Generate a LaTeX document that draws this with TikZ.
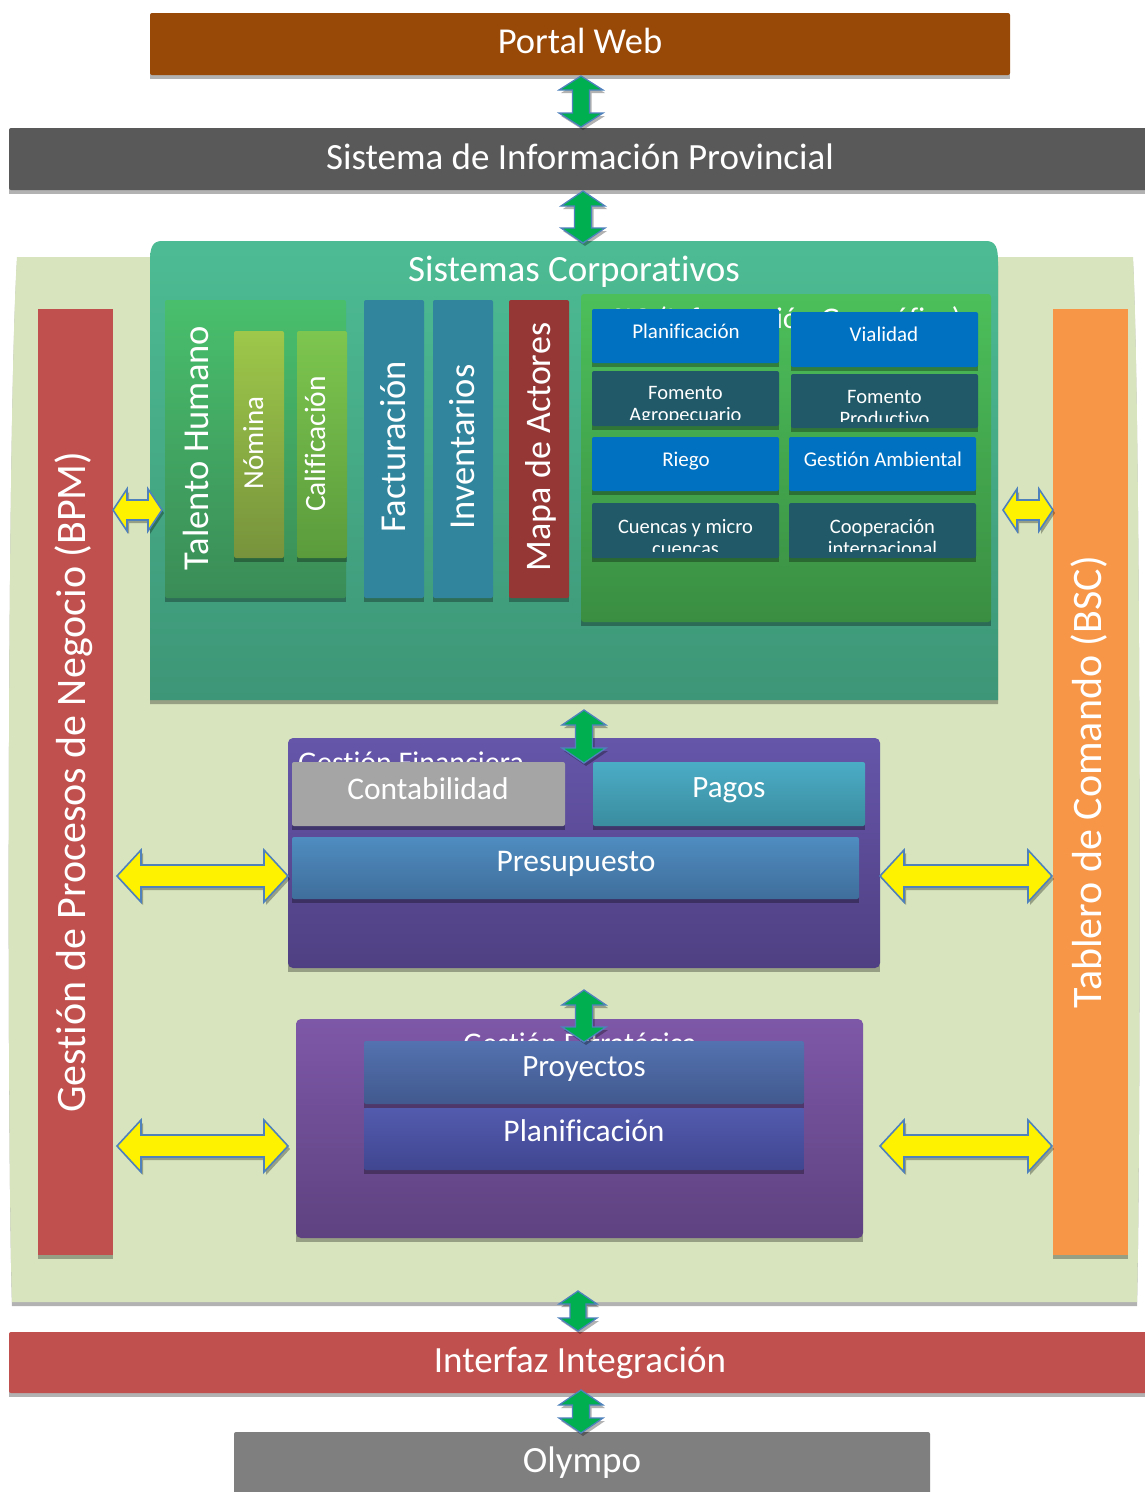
\documentclass[tikz,border=0pt]{standalone}
\usepackage{fontspec}
\setmainfont[Ligatures={NoCommon}]{Carlito}
\usetikzlibrary{calc}
\definecolor{cbrown}{HTML}{984807}
\definecolor{cgrey}{HTML}{595959}
\definecolor{cgrey2}{HTML}{7F7F7F}
\definecolor{cgrey3}{HTML}{A5A5A5}
\definecolor{cbg}{HTML}{D7E4BD}
\definecolor{cred}{HTML}{C0504D}
\definecolor{corange}{HTML}{F79646}
\definecolor{sctop}{HTML}{4DBC94}
\definecolor{scbot}{HTML}{3D9677}
\definecolor{thtop}{HTML}{49BF6C}
\definecolor{thbot}{HTML}{3A8C57}
\definecolor{notop}{HTML}{9DC84A}
\definecolor{nobot}{HTML}{77933C}
\definecolor{catop}{HTML}{7DC64F}
\definecolor{cabot}{HTML}{5B9B3C}
\definecolor{cteal}{HTML}{31859C}
\definecolor{cmaroon}{HTML}{953735}
\definecolor{sigtop}{HTML}{4CBF5A}
\definecolor{sigbot}{HTML}{3A8E42}
\definecolor{cblue}{HTML}{0070C0}
\definecolor{dteal}{HTML}{215968}
\definecolor{gftop}{HTML}{6656AA}
\definecolor{gfbot}{HTML}{4F3F82}
\definecolor{getop}{HTML}{7E58A8}
\definecolor{gebot}{HTML}{5E4280}
\definecolor{patop}{HTML}{4BACC6}
\definecolor{pabot}{HTML}{3A8C9E}
\definecolor{prtop}{HTML}{4F8CC0}
\definecolor{prbot}{HTML}{3F6E9B}
\definecolor{pytop}{HTML}{5472B0}
\definecolor{pybot}{HTML}{41598E}
\definecolor{pltop}{HTML}{535BAE}
\definecolor{plbot}{HTML}{404690}
\definecolor{arrgreen}{HTML}{00B050}
\definecolor{arrblue}{HTML}{4F81BD}
\newcommand\fsz[1]{\fontsize{#1}{#1}\selectfont}
\newcommand\bx[6]{%
  \fill[shd] (#2,#3+4) rectangle ++(#4,#5);
  \node[bx,minimum width=#4pt,minimum height=#5pt,#6] (#1) at (#2,#3) {};}
\newcommand\sigbox[7]{% name x y w h fill text
  \fill[shd] (#2,#3+4) rectangle ++(#4,#5);
  \node[bx,minimum width=#4pt,minimum height=#5pt,fill=#6,
    path picture={\clip (path picture bounding box.north west) rectangle ([yshift=7pt]path picture bounding box.south east);
      \node[text=white,inner sep=0pt,anchor=north,align=center,font=\fontsize{20.5}{22}\selectfont] (#1-t) at ([yshift=-7pt]path picture bounding box.north) {#7};}] (#1) at (#2,#3) {};}
\newcommand\vdarrowpath[7]{%
  \path[#1] (#2,#3) -- (#2+#5,#3+#7) -- (#2+#6,#3+#7) -- (#2+#6,#4-#7) -- (#2+#5,#4-#7) -- (#2,#4) -- (#2-#5,#4-#7) -- (#2-#6,#4-#7) -- (#2-#6,#3+#7) -- (#2-#5,#3+#7) -- cycle;}
\newcommand\vdarrow[6]{\vdarrowpath{shd,shift={(2,3)}}{#1}{#2}{#3}{#4}{#5}{#6}\vdarrowpath{garr}{#1}{#2}{#3}{#4}{#5}{#6}}
\newcommand\hdarrowpath[7]{%
  \path[#1] (#2,#4) -- (#2+#7,#4-#5) -- (#2+#7,#4-#6) -- (#3-#7,#4-#6) -- (#3-#7,#4-#5) -- (#3,#4) -- (#3-#7,#4+#5) -- (#3-#7,#4+#6) -- (#2+#7,#4+#6) -- (#2+#7,#4+#5) -- cycle;}
\newcommand\hdarrow[6]{\hdarrowpath{shd,shift={(2,3)}}{#1}{#2}{#3}{#4}{#5}{#6}\hdarrowpath{yarr}{#1}{#2}{#3}{#4}{#5}{#6}}
\begin{document}
\begin{tikzpicture}[x=1pt,y=-1pt,
  bx/.style={inner sep=0pt,outer sep=0pt,anchor=north west,draw=none,rounded corners=2pt},
  lbl/.style={text=white,inner sep=0pt,anchor=base},
  shd/.style={fill=black,fill opacity=0.3},
  garr/.style={fill=arrgreen,draw=arrblue,line width=1.3pt},
  yarr/.style={fill=yellow,draw=arrblue,line width=1.6pt}]
\useasboundingbox (0,0) rectangle (1145,1492);
\fill[white] (0,0) rectangle (1145,1492);
% background container
\path[shd,shift={(0,4)}] (17,257) -- (1133,257) .. controls (1141,420) and (1141,1140) .. (1137,1302) -- (12,1302) .. controls (7,1140) and (7,420) .. (17,257) -- cycle;
\path[fill=cbg] (17,257) -- (1133,257) .. controls (1141,420) and (1141,1140) .. (1137,1302) -- (12,1302) .. controls (7,1140) and (7,420) .. (17,257) -- cycle;
% side columns
\bx{bpm}{38}{309}{75}{946}{fill=cred,rounded corners=0pt}
\node[lbl,rotate=90,font=\fsz{42}] (bpm-t) at (85.5,782) {Gestión de Procesos de Negocio (BPM)};
\bx{bsc}{1053}{309}{75}{946}{fill=corange,rounded corners=0pt}
\node[lbl,rotate=90,font=\fsz{42}] (bsc-t) at (1101.5,782) {Tablero de Comando (BSC)};
% Sistemas Corporativos
\path[shd,shift={(0,4)}] (150,700) -- (150,262) .. controls (150,248) and (152,241) .. (162,241) -- (986,241) .. controls (996,241) and (998,248) .. (998,262) -- (998,700) -- cycle;
\path[top color=sctop,bottom color=scbot] (150,700) -- (150,262) .. controls (150,248) and (152,241) .. (162,241) -- (986,241) .. controls (996,241) and (998,248) .. (998,262) -- (998,700) -- cycle;
\node[lbl,font=\fsz{37}] (sc-t) at (574,281) {Sistemas Corporativos};
\bx{talento}{165}{300}{181}{298}{top color=thtop,bottom color=thbot}
\node[lbl,rotate=90,font=\fsz{36.5}] (talento-t) at (208,448) {Talento Humano};
\bx{nomina}{234}{331}{50}{227}{top color=notop,bottom color=nobot}
\node[lbl,rotate=90,font=\fsz{29}] (nomina-t) at (263,443) {Nómina};
\bx{calif}{297}{331}{50}{227}{top color=catop,bottom color=cabot}
\node[lbl,rotate=90,font=\fsz{29.5}] (calif-t) at (325,444) {Calificación};
\bx{fact}{364}{300}{60}{298}{fill=cteal}
\node[lbl,rotate=90,font=\fsz{36.5}] (fact-t) at (405.5,447) {Facturación};
\bx{inv}{433}{300}{60}{298}{fill=cteal}
\node[lbl,rotate=90,font=\fsz{36.5}] (inv-t) at (474,447) {Inventarios};
\bx{mapa}{509}{300}{60}{298}{fill=cmaroon}
\node[lbl,rotate=90,font=\fsz{36}] (mapa-t) at (550.5,447) {Mapa de Actores};
% SIG
\bx{sig}{581}{294}{410}{328}{top color=sigtop,bottom color=sigbot,rounded corners=3pt}
\node[lbl,font=\fsz{30}] (sig-t) at (786,328) {SIG (Información Geográfica)};
\bx{planif}{592}{309}{187}{54}{fill=cblue}
\node[lbl,font=\fsz{21}] (planif-t) at (686,338) {Planificación};
\bx{vial}{791}{312}{187}{55}{fill=cblue}
\node[lbl,font=\fsz{21}] (vial-t) at (884,341) {Vialidad};
\sigbox{fagro}{592}{371}{187}{55}{dteal}{Fomento\\Agropecuario}
\sigbox{fprod}{791}{374}{187}{54}{dteal}{Fomento\\Productivo}
\bx{riego}{592}{437}{187}{54}{fill=cblue}
\node[lbl,font=\fsz{21}] (riego-t) at (686,466) {Riego};
\bx{gamb}{789}{437}{187}{54}{fill=cblue}
\node[lbl,font=\fsz{21}] (gamb-t) at (883,466) {Gestión Ambiental};
\sigbox{cuen}{592}{503}{187}{55}{dteal}{Cuencas y micro\\cuencas}
\sigbox{coop}{789}{503}{187}{55}{dteal}{Cooperación\\internacional}
% Gestion Financiera
\bx{gf}{288}{738}{592}{230}{top color=gftop,bottom color=gfbot,rounded corners=5pt}
\node[lbl,anchor=base west,font=\fsz{30}] (gf-t) at (298,772) {Gestión Financiera};
\bx{conta}{292}{762}{273}{64}{fill=cgrey3}
\node[lbl,font=\fsz{31.5}] (conta-t) at (428,799) {Contabilidad};
\bx{pagos}{593}{762}{272}{64}{top color=patop,bottom color=pabot}
\node[lbl,font=\fsz{31}] (pagos-t) at (729,797) {Pagos};
\bx{presu}{292}{837}{567}{62}{top color=prtop,bottom color=prbot}
\node[lbl,font=\fsz{31.5}] (presu-t) at (576,871) {Presupuesto};
% Gestion Estrategica
\bx{ge}{296}{1019}{567}{219}{top color=getop,bottom color=gebot,rounded corners=5pt}
\node[lbl,font=\fsz{30}] (ge-t) at (580,1053) {Gestión Estratégica};
\bx{proy}{364}{1041}{440}{63}{top color=pytop,bottom color=pybot}
\node[lbl,font=\fsz{31}] (proy-t) at (584,1076) {Proyectos};
\bx{plan}{364}{1108}{440}{62}{top color=pltop,bottom color=plbot}
\node[lbl,font=\fsz{31.5}] (plan-t) at (584,1141) {Planificación};
% yellow arrows
\hdarrow{113}{162}{510}{21}{10}{14}
\hdarrow{1003}{1053}{510}{21}{10}{14}
\hdarrow{117}{288}{876}{26}{11}{24}
\hdarrow{880}{1052}{876}{26}{11}{24}
\hdarrow{117}{288}{1146}{26}{11}{24}
\hdarrow{880}{1052}{1146}{26}{11}{24}
% top and bottom bars
\bx{portal}{150}{13}{860}{62}{fill=cbrown}
\node[lbl,font=\fsz{36.5}] (portal-t) at (580,53) {Portal Web};
\bx{sip}{9}{128}{1150}{62}{fill=cgrey}
\node[lbl,font=\fsz{37}] (sip-t) at (580,169) {Sistema de Información Provincial};
\bx{intf}{9}{1332}{1150}{61}{fill=cred}
\node[lbl,font=\fsz{37}] (intf-t) at (580,1372) {Interfaz Integración};
\bx{olympo}{234}{1432}{696}{70}{fill=cgrey2}
\node[lbl,font=\fsz{37}] (olympo-t) at (582,1472) {Olympo};
% green arrows
\vdarrow{581}{76}{127}{22}{8.5}{14}
\vdarrow{583}{191}{243}{22}{8.5}{15}
\vdarrow{584}{710}{763}{22}{8.5}{15}
\vdarrow{584}{990}{1042}{22}{8.5}{15}
\vdarrow{578}{1291}{1331}{19}{8}{13}
\vdarrow{581}{1390}{1433}{22}{8.5}{15}
\end{tikzpicture}
\end{document}
